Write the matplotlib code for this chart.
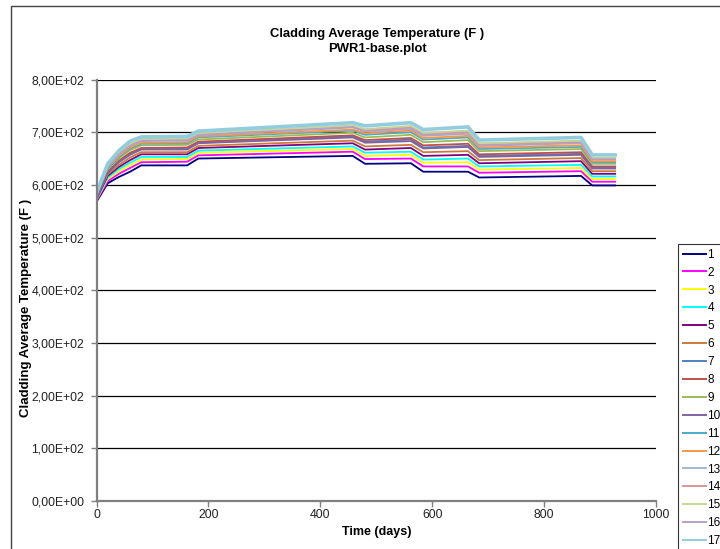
import matplotlib
matplotlib.use("Agg")
import matplotlib.pyplot as plt
from matplotlib.patches import Rectangle
from matplotlib.ticker import FuncFormatter, MultipleLocator

plt.rcParams['font.family'] = ['Liberation Sans', 'DejaVu Sans']

# time steps (days)
time_days = [0, 20, 40, 60, 80, 162, 182, 458, 480, 562, 584, 664, 684, 866, 886, 927]

# cladding average temperature (F), one list per rod
s1 = [568, 603, 615, 625, 637, 637, 650, 655, 640, 641, 625, 625, 614, 617, 599, 599]
s2 = [570, 607, 621, 632, 643, 644, 656, 663, 649, 650, 635, 635, 623, 626, 606, 606]
s3 = [572, 611, 626, 637, 648, 649, 661, 668, 655, 657, 642, 643, 629, 632, 611, 611]
s4 = [573, 614, 630, 642, 653, 653, 665, 673, 661, 663, 648, 650, 635, 638, 616, 616]
s5 = [574, 617, 634, 647, 658, 658, 670, 679, 667, 670, 655, 657, 641, 645, 621, 621]
s6 = [576, 620, 638, 652, 662, 662, 674, 684, 673, 676, 662, 664, 647, 651, 626, 626]
s7 = [578, 624, 644, 659, 668, 669, 680, 692, 682, 686, 671, 674, 655, 659, 633, 633]
s8 = [579, 626, 646, 661, 670, 671, 682, 694, 685, 689, 675, 678, 658, 662, 635, 635]
s9 = [580, 629, 650, 666, 675, 676, 686, 699, 690, 695, 681, 685, 664, 668, 640, 640]
s10 = [577, 623, 643, 657, 667, 667, 679, 690, 680, 683, 669, 672, 653, 657, 631, 631]
s11 = [581, 631, 653, 669, 678, 679, 690, 703, 695, 700, 686, 690, 668, 672, 643, 643]
s12 = [582, 633, 655, 671, 680, 681, 692, 705, 698, 703, 689, 693, 671, 675, 645, 645]
s13 = [583, 636, 660, 677, 686, 687, 697, 712, 705, 710, 697, 702, 678, 683, 651, 651]
s14 = [583, 636, 659, 676, 685, 685, 696, 710, 703, 709, 695, 700, 676, 681, 650, 650]
s15 = [584, 637, 661, 678, 687, 688, 698, 713, 706, 712, 699, 703, 679, 684, 652, 652]
s16 = [582, 634, 658, 674, 683, 684, 694, 709, 701, 706, 693, 697, 674, 679, 648, 648]
s17 = [585, 640, 665, 683, 691, 692, 702, 718, 712, 718, 705, 710, 685, 690, 657, 657]

series = [s1, s2, s3, s4, s5, s6, s7, s8, s9, s10, s11, s12, s13, s14, s15, s16, s17]
labels = [str(i) for i in range(1, 18)]
colors = ['#000080', '#FF00FF', '#FFFF00', '#00FFFF', '#800080', '#CC7A3A',
          '#4F81BD', '#C0504D', '#9BBB59', '#8064A2', '#4BACC6', '#F79646',
          '#A5B8DA', '#D99795', '#C3D69B', '#B3A2C7', '#93CDDD']

fig = plt.figure(figsize=(7.2, 5.49), dpi=100)
ax = fig.add_axes([96.5 / 720, 1 - 501 / 549, (656 - 96.5) / 720, (501 - 79.5) / 549])

for vals, lab, col in zip(series, labels, colors):
    lw = 2.6 if lab == '17' else 1.3
    ax.plot(time_days, vals, color=col, lw=lw, label=lab)

ax.set_xlim(0, 1000)
ax.set_ylim(0, 800)
ax.xaxis.set_major_locator(MultipleLocator(200))
ax.yaxis.set_major_locator(MultipleLocator(100))
ax.yaxis.set_major_formatter(FuncFormatter(lambda v, p: f"{v:.2E}".replace('.', ',')))
ax.grid(axis='y', color='black', lw=0.9)
ax.set_axisbelow(True)
for side in ['top', 'right']:
    ax.spines[side].set_visible(False)
for side in ['left', 'bottom']:
    ax.spines[side].set_color('#808080')
    ax.spines[side].set_linewidth(1.6)
ax.tick_params(direction='out', length=4, width=1, color='#808080',
               labelsize=8.8, labelcolor='#222222')
ax.tick_params(axis='y', pad=5)
ax.tick_params(axis='x', pad=2)

ax.set_xlabel("Time (days)", fontsize=9, fontweight='bold', labelpad=3)
ax.set_ylabel("Cladding Average Temperature (F )", fontsize=9.5, fontweight='bold')
ax.yaxis.set_label_coords(-0.116, 0.459)

fig.text(377 / 720, 1 - 34 / 549, "Cladding Average Temperature (F )",
         ha='center', va='center', fontsize=9.4, fontweight='bold')
fig.text(377 / 720, 1 - 49 / 549, "PWR1-base.plot",
         ha='center', va='center', fontsize=9.4, fontweight='bold')

leg = fig.legend(loc='upper left', bbox_to_anchor=(678 / 720, 1 - 244 / 549),
                 fontsize=8.5, labelspacing=0.5, handlelength=2.0,
                 handletextpad=0.1, borderaxespad=0, borderpad=0.4,
                 fancybox=False, frameon=True)
leg.get_frame().set_edgecolor('black')
leg.get_frame().set_linewidth(0.8)
for h in leg.get_lines():
    h.set_linewidth(1.4)

# chart area border
fig.patches.append(Rectangle((11 / 720, -0.1), 1.2, 1.1 - 6 / 549,
                             transform=fig.transFigure, fill=False,
                             edgecolor='#444444', lw=1))

fig.savefig("out.png", dpi=100)
